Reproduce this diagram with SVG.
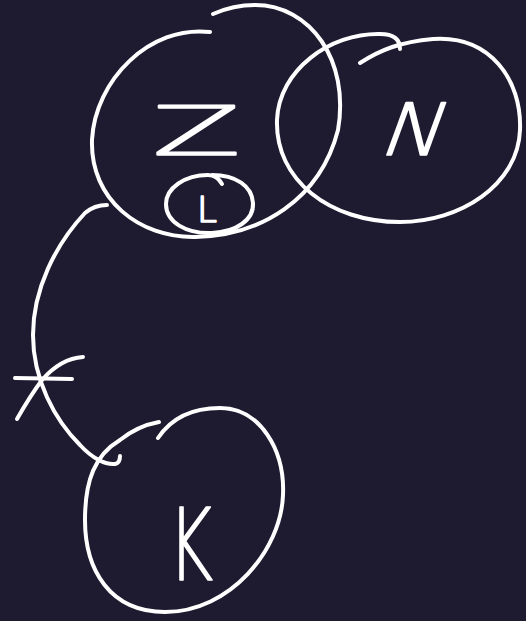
<svg xmlns="http://www.w3.org/2000/svg" width="526" height="621" viewBox="0 0 526 621">
<style>
.s{fill:none;stroke:#ffffff;stroke-width:4;stroke-linecap:round;stroke-linejoin:round}
.t{fill:#ffffff;stroke:#ffffff;stroke-width:1.6;stroke-linejoin:round;font-family:"DejaVu Sans","Liberation Sans",Arial,sans-serif;font-weight:200}
</style>
<rect width="526" height="621" fill="#1e1a2f"/>
<g id="connectors">
<path class="s" d="M107,205 C98,205 92,207 85,213 C55,245 33,290 33,335 C33,380 55,420 80,445 C92,458 105,465 115,464 C120,463 120,458 120,456"/>
<path class="s" d="M15,378 L72,379"/>
<path class="s" d="M17,419 C25,405 33,392 42,380 C55,365 68,358 83,357"/>
</g>
<g id="node-Z">
<path class="s" d="M210,32 C150,25 95,80 92,140 C90,200 140,238 195,237 C260,236 320,200 338,130 C350,60 310,5 255,5 C235,5 222,10 213,14"/>
<text class="t" x="152" y="155" font-size="68" textLength="89" lengthAdjust="spacingAndGlyphs">Z</text>
</g>
<g id="node-L">
<path class="s" d="M222,184 C218,177 212,175 208,175 C185,175 166,188 166,204 C166,222 186,234 212,233 C236,232 254,220 253,203 C252,186 236,175 212,175"/>
<text class="t" x="197" y="222" font-size="35" textLength="20" lengthAdjust="spacingAndGlyphs">L</text>
</g>
<g id="node-N">
<path class="s" d="M360,63 C380,50 400,42 433,39 C490,35 522,80 520,130 C518,185 460,222 400,222 C330,222 275,180 277,120 C279,70 330,33 380,34 C395,34 400,40 400,49"/>
<text class="t" transform="translate(408,155) skewX(-20)" x="-31" y="0" font-size="72" textLength="62" lengthAdjust="spacingAndGlyphs">N</text>
</g>
<g id="node-K">
<path class="s" d="M158,438 C170,420 190,408 220,408 C260,408 285,450 283,495 C281,550 230,612 165,612 C110,612 85,570 85,520 C85,480 95,455 120,440 C135,428 148,424 159,422"/>
<text class="t" x="168" y="580" font-size="100" textLength="45" lengthAdjust="spacingAndGlyphs">K</text>
</g>
</svg>
